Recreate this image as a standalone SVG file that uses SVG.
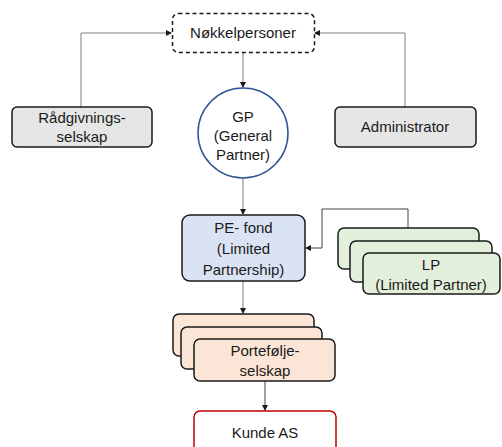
<svg xmlns="http://www.w3.org/2000/svg" width="502" height="447" viewBox="0 0 502 447">
<style>
text{font-family:"Liberation Sans",Arial,sans-serif;font-size:15px;fill:#1a1a1a;text-anchor:middle}
.box{stroke:#1a1a1a;stroke-width:1.5}
.gray{fill:#e6e6e6}
.blue{fill:#dae3f3}
.green{fill:#e2efda}
.peach{fill:#fbe5d6}
.conn{fill:none;stroke:#7f7f7f;stroke-width:1}
.conn2{fill:none;stroke:#404040;stroke-width:1}
</style>
<defs>
<marker id="arr" markerWidth="6" markerHeight="6" refX="5" refY="3" orient="auto" markerUnits="userSpaceOnUse">
<path d="M0,0 L6,3 L0,6 Z" fill="#1a1a1a"/>
</marker>
</defs>
<rect width="502" height="447" fill="#ffffff"/>
<g id="connectors">
<path class="conn" d="M81,107 V33 H171" marker-end="url(#arr)"/>
<path class="conn" d="M405,107 V33 H315" marker-end="url(#arr)"/>
<path class="conn" d="M243,53 V87" marker-end="url(#arr)"/>
<path class="conn" d="M243,178 V214" marker-end="url(#arr)"/>
<path class="conn2" d="M408,228 V209 H322 V248 H306" marker-end="url(#arr)"/>
<path class="conn" d="M243,281 V313" marker-end="url(#arr)"/>
<path class="conn2" d="M265,381 V410" marker-end="url(#arr)"/>
</g>
<g id="nokkelpersoner">
<rect x="172.5" y="13.5" width="142" height="39" rx="6" fill="#ffffff" stroke="#1a1a1a" stroke-width="1.5" stroke-dasharray="4,3"/>
<text x="243" y="38">Nøkkelpersoner</text>
</g>
<g id="radgivning">
<rect class="box gray" x="12" y="107" width="140" height="40" rx="5"/>
<text x="82" y="123">Rådgivnings-</text>
<text x="82" y="142">selskap</text>
</g>
<g id="administrator">
<rect class="box gray" x="335" y="107" width="141" height="40" rx="5"/>
<text x="405" y="132">Administrator</text>
</g>
<g id="gp">
<circle cx="243" cy="133" r="45" fill="#ffffff" stroke="#2f5597" stroke-width="1.5"/>
<text x="243" y="122">GP</text>
<text x="243" y="141">(General</text>
<text x="243" y="160">Partner)</text>
</g>
<g id="pefond">
<rect class="box blue" x="182" y="215" width="123" height="66" rx="8"/>
<text x="243.5" y="233">PE- fond</text>
<text x="243.5" y="254">(Limited</text>
<text x="243.5" y="275">Partnership)</text>
</g>
<g id="lp">
<rect class="box green" x="338" y="228" width="141" height="41" rx="6"/>
<rect class="box green" x="350" y="241" width="142" height="41" rx="6"/>
<rect class="box green" x="363" y="253" width="137" height="41" rx="6"/>
<text x="431" y="270">LP</text>
<text x="431" y="290">(Limited Partner)</text>
</g>
<g id="portefolje">
<rect class="box peach" x="173" y="314" width="141" height="42" rx="6"/>
<rect class="box peach" x="181" y="327" width="141" height="42" rx="6"/>
<rect class="box peach" x="194" y="339" width="141" height="42" rx="6"/>
<text x="265" y="356">Portefølje-</text>
<text x="265" y="376">selskap</text>
</g>
<g id="kunde">
<rect x="194" y="411" width="142" height="50" rx="6" fill="#ffffff" stroke="#c00000" stroke-width="1.5"/>
<text x="265" y="438">Kunde AS</text>
</g>
</svg>
